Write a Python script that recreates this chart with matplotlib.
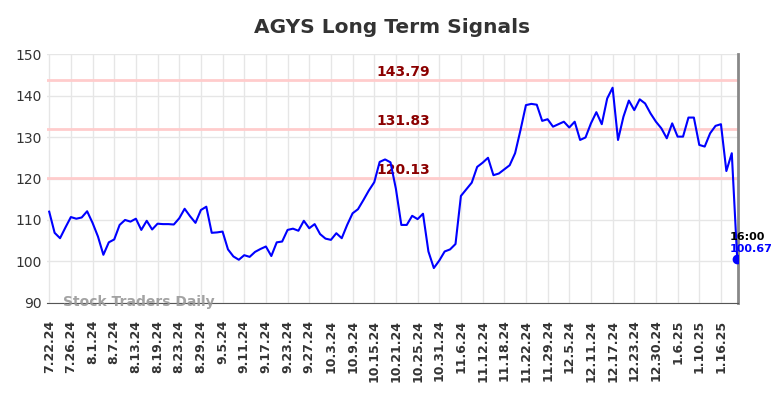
import numpy as np
from matplotlib import pyplot as plt

ticker = "AGYS"
prices = [112.0, 106.9, 105.6, 108.2, 110.7, 110.3, 110.6, 112.1, 109.3, 106.0,
          101.6, 104.6, 105.3, 108.8, 110.0, 109.6, 110.3, 107.6, 109.8, 107.7,
          109.1, 109.0, 109.0, 108.9, 110.4, 112.7, 110.9, 109.3, 112.4, 113.2,
          106.9, 107.0, 107.2, 102.9, 101.2, 100.4, 101.5, 101.1, 102.3, 103.0,
          103.6, 101.3, 104.6, 104.8, 107.6, 107.9, 107.4, 109.8, 108.0, 109.0,
          106.6, 105.5, 105.2, 106.8, 105.6, 108.8, 111.6, 112.6, 114.8, 117.1,
          119.1, 124.0, 124.6, 123.9, 117.5, 108.8, 108.8, 111.0, 110.2, 111.5,
          102.4, 98.4, 100.2, 102.4, 102.9, 104.2, 115.8, 117.4, 119.0, 122.8,
          123.8, 125.0, 120.8, 121.2, 122.2, 123.2, 126.1, 131.7, 137.7, 138.0,
          137.8, 133.9, 134.3, 132.5, 133.1, 133.7, 132.3, 133.7, 129.3, 129.9,
          133.3, 136.0, 133.1, 139.3, 141.9, 129.3, 134.9, 138.8, 136.5, 139.1,
          138.1, 135.7, 133.7, 132.1, 129.7, 133.3, 130.1, 130.1, 134.7, 134.7,
          128.1, 127.7, 130.9, 132.7, 133.1, 121.8, 126.1, 100.67]
tick_labels = ['7.22.24', '7.26.24', '8.1.24', '8.7.24', '8.13.24', '8.19.24', '8.23.24',
               '8.29.24', '9.5.24', '9.11.24', '9.17.24', '9.23.24', '9.27.24', '10.3.24',
               '10.9.24', '10.15.24', '10.21.24', '10.25.24', '10.31.24', '11.6.24',
               '11.12.24', '11.18.24', '11.22.24', '11.29.24', '12.5.24', '12.11.24',
               '12.17.24', '12.23.24', '12.30.24', '1.6.25', '1.10.25', '1.16.25']
levels = [143.79, 131.83, 120.13]
last_time = "16:00"

x = np.arange(len(prices))
last = len(prices) - 1

fig = plt.figure(figsize=(7.84, 3.98), dpi=100)
ax = fig.add_axes([0.06, 0.239, 0.881, 0.625])

ax.grid(True, color='#e6e6e6', linewidth=1)
ax.set_axisbelow(True)

for lv in levels:
    ax.axhline(lv, color='#ffcccc', linewidth=2, zorder=1)
    ax.text(65.3, lv + 0.3, f'{lv:.2f}', color='#8b0000', fontsize=10,
            fontweight='bold', ha='center', va='bottom')

ax.plot(x, prices, color='#0000ff', linewidth=1.5, zorder=3)
ax.plot(last, prices[-1], 'o', color='#0000ff', markersize=6, zorder=4)
ax.text(last - 1.3, prices[-1] + 4.0, last_time, color='black', fontsize=8,
        fontweight='bold', ha='left', va='bottom')
ax.text(last - 1.3, prices[-1] + 1.0, f'{prices[-1]:.2f}', color='#0000ff', fontsize=8,
        fontweight='bold', ha='left', va='bottom')

ax.text(2.5, 90.2, 'Stock Traders Daily', color='#999999', fontsize=10,
        fontweight='bold', ha='left', va='center', alpha=0.9)

ax.set_xlim(-0.4, last + 0.1)
ax.set_ylim(90, 150)
ax.set_yticks([90, 100, 110, 120, 130, 140, 150])
ax.set_xticks(x[::4])
ax.set_xticklabels(tick_labels, rotation=90, fontsize=9, fontweight='bold', color='#333333')
ax.tick_params(axis='y', labelsize=10, colors='#333333', length=0)
ax.tick_params(axis='x', length=0, pad=12)

for s in ['top', 'left']:
    ax.spines[s].set_visible(False)
ax.spines['bottom'].set_color('#555555')
ax.spines['right'].set_color('#888888')
ax.spines['right'].set_linewidth(2)

ax.set_title(f'{ticker} Long Term Signals', fontsize=14.5, fontweight='bold',
             color='#333333', pad=15)

fig.savefig('out.png', dpi=100)
